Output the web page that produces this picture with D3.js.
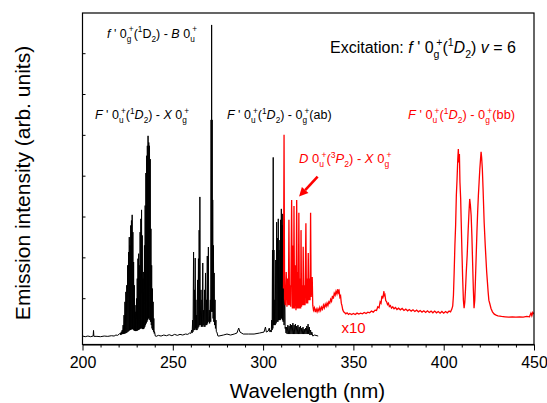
<!DOCTYPE html>
<html>
<head>
<meta charset="utf-8">
<script src="https://cdn.jsdelivr.net/npm/d3@7"></script>
<style>
  html, body { margin: 0; padding: 0; background: #fff; }
  svg { display: block; font-family: "Liberation Sans", Arial, sans-serif; }
</style>
</head>
<body>
<div id="chart"></div>
<script>
// wavelength (nm), intensity (arb. units, 0-100 of full frame height)
const blackSpectrum = [
  [200.0, 2.7], [201.5, 2.5], [203.0, 2.7], [204.5, 2.5], [205.9, 2.7], [206.1, 4.4], [206.3, 2.6],
  [208.0, 2.6], [210.0, 2.5], [212.0, 2.7], [214.0, 2.6], [216.0, 2.8], [217.5, 2.7], [218.5, 3.0],
  [219.5, 2.9], [220.3, 3.3],
  [221.0, 3.6], [221.2, 3.0], [221.5, 4.0], [221.7, 3.2], [222.0, 4.5], [222.2, 3.3], [222.5, 6.0], [222.7, 3.3],
  [223.0, 9.0], [223.2, 3.4], [223.5, 13.0], [223.7, 3.5], [224.0, 16.0], [224.2, 3.6], [224.5, 18.0], [224.7, 3.8],
  [225.0, 24.0], [225.2, 4.0], [225.5, 28.0], [225.7, 4.2], [225.9, 32.5], [226.1, 4.5], [226.3, 30.0], [226.5, 4.5],
  [226.7, 36.0], [226.9, 4.6], [227.1, 37.5], [227.3, 4.8], [227.5, 39.2], [227.7, 4.8], [227.9, 34.0], [228.1, 4.6],
  [228.3, 25.0], [228.5, 4.4], [228.7, 18.0], [228.9, 4.3], [229.1, 12.0], [229.3, 4.2], [229.5, 10.0], [229.7, 4.2],
  [229.9, 14.0], [230.1, 4.3], [230.3, 20.0], [230.5, 4.4], [230.7, 26.0], [230.9, 4.5], [231.1, 27.5], [231.3, 4.6],
  [231.5, 24.0], [231.7, 4.8], [231.9, 34.0], [232.1, 5.0], [232.3, 38.0], [232.5, 5.0], [232.7, 40.7], [232.9, 5.0],
  [233.1, 33.0], [233.3, 4.8], [233.5, 20.0], [233.7, 4.8], [233.9, 22.0], [234.1, 5.0], [234.3, 30.0], [234.5, 5.5],
  [234.7, 42.0], [234.9, 6.0], [235.1, 51.8], [235.3, 6.5], [235.5, 57.0], [235.7, 7.0], [235.9, 60.0], [236.1, 7.5],
  [236.3, 63.0], [236.5, 8.0], [236.7, 61.0], [236.9, 8.0], [237.1, 60.0], [237.3, 7.5], [237.5, 56.0], [237.7, 7.0],
  [237.9, 35.0], [238.1, 6.0], [238.3, 24.0], [238.5, 5.0], [238.7, 17.0], [238.9, 4.5], [239.1, 13.0], [239.3, 4.0],
  [239.5, 8.0], [239.7, 3.5], [239.9, 4.0], [240.3, 2.7],
  [240.8, 2.6], [242.0, 2.9], [243.5, 2.7], [245.0, 3.0], [246.5, 2.8], [248.0, 3.1], [249.5, 2.8], [251.0, 3.2],
  [252.5, 2.9], [254.0, 3.2], [255.5, 3.0], [257.0, 3.3], [258.3, 3.2], [259.3, 3.6], [260.0, 3.5],
  [260.5, 4.5], [260.7, 3.6], [261.0, 7.5], [261.2, 4.0], [261.5, 28.0], [261.7, 4.5], [262.0, 16.6], [262.2, 4.5],
  [262.4, 26.2], [262.6, 5.0], [262.8, 13.6], [263.0, 4.5], [263.2, 9.0], [263.4, 4.5], [263.7, 19.6], [263.9, 5.0],
  [264.2, 26.0], [264.4, 5.5], [264.6, 34.6], [264.8, 6.0], [265.0, 44.6], [265.2, 6.0], [265.6, 16.6], [265.8, 5.5],
  [266.1, 13.6], [266.3, 5.5], [266.6, 24.7], [266.8, 6.0], [267.1, 10.5], [267.3, 5.5], [267.6, 16.6], [267.8, 5.5],
  [268.1, 21.7], [268.3, 6.0], [268.6, 13.6], [268.8, 6.0], [269.1, 26.8], [269.3, 6.5], [269.7, 29.5], [269.9, 7.0],
  [270.2, 10.5], [270.4, 6.5], [270.8, 13.6], [271.0, 7.0], [271.2, 67.8], [271.35, 10.0], [271.5, 96.4], [271.65, 20.0],
  [271.8, 67.8], [271.95, 10.0], [272.1, 43.7], [272.3, 8.0], [272.5, 30.0], [272.7, 7.0], [272.9, 21.7], [273.1, 6.0],
  [273.4, 13.6], [273.6, 5.0], [273.9, 7.5], [274.1, 4.0], [274.4, 3.9], [275.0, 2.7],
  [275.5, 2.7], [278.0, 3.0], [280.0, 3.3], [282.0, 3.0], [284.0, 3.3], [285.5, 3.6], [286.5, 5.1], [287.2, 3.9],
  [289.0, 3.3], [292.0, 3.3], [295.0, 3.3], [298.0, 3.6], [300.5, 3.9], [301.3, 5.4], [301.8, 3.9], [302.8, 4.2],
  [303.4, 5.1], [303.8, 3.9],
  [304.3, 4.5], [304.5, 3.9], [304.8, 7.5], [305.0, 4.5], [305.2, 28.6], [305.4, 5.0], [305.6, 56.5], [305.8, 6.0],
  [306.0, 28.6], [306.2, 6.0], [306.5, 13.6], [306.7, 6.0], [307.0, 25.6], [307.2, 6.5], [307.5, 37.0], [307.7, 7.0],
  [308.0, 32.2], [308.2, 7.0], [308.4, 38.0], [308.6, 7.5], [308.8, 28.6], [309.0, 7.5], [309.3, 31.6], [309.5, 7.5],
  [309.7, 37.7], [309.9, 8.0], [310.1, 41.0], [310.3, 8.0], [310.5, 36.1], [310.7, 7.5], [310.9, 39.5], [311.1, 7.0],
  [311.4, 28.6], [311.6, 6.0], [312.0, 17.5], [312.2, 5.0], [312.4, 5.4], [312.7, 3.6],
  [313.0, 5.4], [313.3, 3.3], [313.7, 6.0], [314.0, 3.3], [314.4, 5.7], [314.7, 3.3], [315.1, 6.3], [315.4, 3.3],
  [315.8, 6.0], [316.1, 3.3], [316.5, 6.6], [316.8, 3.3], [317.2, 6.0], [317.5, 3.3], [317.9, 6.3], [318.2, 3.3],
  [318.6, 5.7], [318.9, 3.3], [319.3, 6.0], [319.6, 3.3], [320.0, 5.4], [320.3, 3.3], [320.7, 5.7], [321.0, 3.3],
  [321.4, 5.1], [321.7, 3.3], [322.1, 5.4], [322.4, 3.3], [322.8, 4.8], [323.1, 3.3], [323.5, 5.1], [323.8, 3.3],
  [324.2, 5.7], [324.5, 3.3], [324.9, 6.3], [325.2, 3.3], [325.6, 5.4], [325.9, 3.0], [326.3, 4.5], [326.6, 3.0],
  [327.0, 3.9], [327.5, 2.7], [328.5, 3.0], [330.5, 2.7]
];

// the x10 magnified trace
const redSpectrum = [
  [311.3, 17.0], [311.6, 63.3], [311.9, 14.0], [312.3, 12.0], [312.8, 22.0], [313.2, 11.5], [313.6, 20.0],
  [314.0, 12.0], [314.3, 37.7], [314.6, 12.0], [315.0, 18.0], [315.3, 11.5], [315.8, 43.7], [316.2, 11.0],
  [316.6, 30.0], [316.9, 11.0], [317.1, 41.9], [317.4, 11.0], [317.9, 24.0], [318.2, 10.5], [318.6, 43.7],
  [318.9, 11.0], [319.3, 22.0], [319.5, 11.0], [319.8, 39.8], [320.1, 11.0], [320.5, 20.0], [320.8, 11.0],
  [321.0, 34.6], [321.3, 11.5], [321.7, 18.0], [322.0, 12.0], [322.2, 29.6], [322.5, 12.0], [322.9, 18.0],
  [323.2, 12.0], [323.7, 36.7], [324.0, 12.5], [324.4, 20.0], [324.7, 12.5], [325.0, 27.7], [325.3, 13.5],
  [325.7, 20.0], [326.0, 13.5], [326.3, 39.8], [326.6, 14.5], [326.9, 18.0], [327.2, 20.5],
  [327.5, 12.0], [327.9, 10.5], [328.4, 11.2], [328.9, 9.9], [329.4, 10.8], [329.9, 10.0], [330.4, 10.9],
  [330.9, 10.2], [331.4, 11.3], [331.9, 10.4], [332.4, 11.4], [332.9, 10.8], [333.4, 12.0], [333.9, 11.2],
  [334.4, 12.3], [334.9, 11.6], [335.4, 12.6], [335.9, 11.9], [336.4, 13.0], [336.9, 12.6], [337.4, 13.8],
  [337.9, 13.2], [338.4, 14.8], [338.9, 14.0], [339.4, 15.6], [339.9, 15.0], [340.4, 16.2], [340.9, 15.4],
  [341.4, 16.8], [341.7, 15.8], [342.1, 16.3], [342.5, 14.4], [342.9, 14.8], [343.3, 12.6], [343.7, 11.8],
  [344.1, 10.6], [344.6, 10.0], [345.1, 9.8], [345.8, 9.4], [346.5, 9.7], [347.3, 9.2], [348.0, 9.5],
  [349.0, 9.2], [350.0, 9.5], [351.0, 9.2], [352.0, 9.6], [353.0, 9.3], [354.0, 9.6], [355.0, 9.4],
  [356.0, 9.8], [357.0, 9.5], [358.0, 9.9], [359.0, 9.7], [360.0, 10.2], [361.0, 9.9], [362.0, 10.5],
  [362.8, 10.4], [363.5, 11.5], [364.2, 11.2], [364.8, 13.0], [365.3, 12.6], [365.8, 14.8], [366.3, 14.0],
  [366.9, 16.2], [367.2, 14.6], [367.5, 15.0], [367.9, 13.4], [368.4, 13.0], [368.9, 12.2], [369.4, 12.6],
  [369.9, 11.6], [370.5, 11.9], [371.1, 11.1], [371.8, 11.5], [372.5, 10.9], [373.3, 11.3], [374.1, 10.7],
  [375.0, 11.1], [376.0, 10.6], [377.0, 11.0], [378.0, 10.4], [379.0, 10.8], [380.0, 10.3], [381.0, 10.7],
  [382.0, 10.2], [383.0, 10.6], [384.0, 10.1], [385.0, 10.5], [386.0, 10.0], [387.0, 10.4], [388.0, 9.9],
  [389.0, 10.3], [390.0, 9.8], [391.0, 10.3], [392.0, 9.8], [393.0, 10.2], [394.0, 9.7], [395.0, 10.2],
  [396.0, 9.7], [397.0, 10.1], [398.0, 9.6], [399.0, 10.1], [400.0, 9.6], [401.0, 10.1], [402.0, 9.7],
  [403.0, 10.2], [403.8, 10.0], [404.5, 10.8], [405.0, 11.8], [405.4, 15.0], [405.8, 22.0], [406.2, 30.0],
  [406.6, 36.0], [407.0, 45.0], [407.4, 50.0], [407.8, 56.0], [408.1, 59.0], [408.4, 55.0], [408.7, 57.5],
  [409.0, 49.0], [409.4, 44.0], [409.7, 37.0], [410.1, 28.0], [410.5, 20.0], [410.9, 13.5], [411.3, 11.1],
  [411.7, 13.0], [412.1, 17.0], [412.5, 22.0], [413.0, 27.0], [413.5, 34.0], [414.0, 40.0], [414.4, 44.0],
  [414.8, 42.0], [415.2, 39.0], [415.6, 33.0], [416.0, 25.0], [416.4, 17.0], [416.8, 11.1], [417.2, 13.5],
  [417.6, 20.0], [418.0, 27.0], [418.4, 34.0], [418.8, 40.0], [419.2, 45.0], [419.6, 49.0], [420.0, 53.0],
  [420.4, 56.0], [420.7, 58.2], [421.0, 56.5], [421.4, 53.0], [421.8, 47.0], [422.4, 37.0], [423.0, 30.0],
  [423.4, 26.0], [423.8, 22.0], [424.2, 19.0], [424.6, 16.0], [425.0, 13.5], [425.5, 12.5], [426.2, 11.0],
  [427.0, 10.0], [428.0, 9.3], [429.0, 9.0], [430.0, 8.8], [432.0, 8.6], [434.0, 8.5], [436.0, 8.4],
  [438.0, 8.5], [440.0, 8.4], [442.0, 8.5], [444.0, 8.4], [446.0, 8.6], [447.5, 8.5], [448.3, 9.6],
  [448.8, 8.8], [449.3, 9.8], [450.0, 9.3]
];

const xMajorTicks = [200, 250, 300, 350, 400, 450];
const xMinorTicks = [210, 220, 230, 240, 260, 270, 280, 290, 310, 320, 330, 340,
                     360, 370, 380, 390, 410, 420, 430, 440];
const yTicks = [14.1, 26.4, 38.7, 51.0, 63.3, 75.6, 87.9];

// label pieces: [text, kind]  n=normal, i=italic, b=subscript, p=superscript, bp=[sub, sup] stacked
const labelFB = [["f", "i"], [" ' 0", "n"], [["g", "+"], "bp"], ["(", "n"], ["1", "p"], ["D", "n"], ["2", "b"],
                 [") - ", "n"], ["B", "i"], [" 0", "n"], [["u", "+"], "bp"]];
const labelFX = [["F", "i"], [" ' 0", "n"], [["u", "+"], "bp"], ["(", "n"], ["1", "p"], ["D", "i"], ["2", "b"],
                 [") - ", "n"], ["X", "i"], [" 0", "n"], [["g", "+"], "bp"]];
const labelAB = [["F", "i"], [" ' 0", "n"], [["u", "+"], "bp"], ["(", "n"], ["1", "p"], ["D", "i"], ["2", "b"],
                 [") - 0", "n"], [["g", "+"], "bp"], ["(ab)", "n"]];
const labelBB = [["F", "i"], [" ' 0", "n"], [["u", "+"], "bp"], ["(", "n"], ["1", "p"], ["D", "i"], ["2", "b"],
                 [") - 0", "n"], [["g", "+"], "bp"], ["(bb)", "n"]];
const labelDX = [["D", "i"], [" 0", "n"], [["u", "+"], "bp"], ["(", "n"], ["3", "p"], ["P", "i"], ["2", "b"],
                 [") - ", "n"], ["X", "i"], [" 0", "n"], [["g", "+"], "bp"]];
const labelExc = [["Excitation: ", "n"], ["f", "i"], [" ' 0", "n"], [["g", "+"], "bp"], ["(", "n"], ["1", "p"],
                  ["D", "i"], ["2", "b"], [")  ", "n"], ["v", "i"], [" = 6", "n"]];

const width = 547, height = 403;
const svg = d3.select("#chart").append("svg")
    .attr("width", width)
    .attr("height", height);

const x = d3.scaleLinear().domain([200, 450]).range([82.5, 534]);
const y = d3.scaleLinear().domain([0, 100]).range([345, 13]);

svg.append("clipPath").attr("id", "plot-clip")
    .append("rect").attr("x", 82.5).attr("y", 13).attr("width", 451.5).attr("height", 331.5);

const line = d3.line().x(d => x(d[0])).y(d => y(d[1]));

const plot = svg.append("g").attr("clip-path", "url(#plot-clip)");

plot.append("path")
    .datum(blackSpectrum)
    .attr("fill", "none")
    .attr("stroke", "#000")
    .attr("stroke-width", 1)
    .attr("d", line);

plot.append("path")
    .datum(redSpectrum)
    .attr("fill", "none")
    .attr("stroke", "#ff0000")
    .attr("stroke-width", 1.3)
    .attr("d", line);

// axes
const xAxis = svg.append("g")
    .attr("transform", "translate(0,344.5)")
    .call(d3.axisBottom(x).tickValues(xMajorTicks).tickSize(6).tickSizeOuter(0).tickPadding(6)
        .tickFormat(d3.format("d")));
xAxis.select(".domain").attr("stroke-width", 1.2);
xAxis.selectAll("text")
    .attr("font-family", "Liberation Sans, Arial, sans-serif")
    .attr("font-size", 16)
    .attr("fill", "#000");

svg.append("g")
    .attr("transform", "translate(0,344.5)")
    .call(d3.axisBottom(x).tickValues(xMinorTicks).tickSize(3).tickFormat(""))
    .select(".domain").remove();

svg.append("g")
    .attr("transform", "translate(82.5,0)")
    .call(d3.axisLeft(y).tickValues(yTicks).tickSize(-3).tickFormat(""))
    .select(".domain").remove();

svg.append("rect")
    .attr("x", 82.5).attr("y", 13)
    .attr("width", 451.5).attr("height", 331.5)
    .attr("fill", "none")
    .attr("stroke", "#000")
    .attr("stroke-width", 1.2);

// axis titles
svg.append("text")
    .attr("x", 307.5).attr("y", 398)
    .attr("text-anchor", "middle")
    .attr("font-size", 20.5)
    .text("Wavelength  (nm)");

svg.append("text")
    .attr("transform", "translate(30,183) rotate(-90)")
    .attr("text-anchor", "middle")
    .attr("font-size", 21)
    .text("Emission intensity  (arb. units)");

// rich labels with sub/superscripts
function richText(px, py, parts, size, color) {
    const t = svg.append("text")
        .attr("x", px).attr("y", py)
        .attr("font-size", size)
        .attr("fill", color);
    const small = size * 0.66;
    const subOff = size * 0.32, supOff = -size * 0.42;
    let off = 0;
    parts.forEach(([txt, kind]) => {
        if (kind === "bp") {
            const s1 = t.append("tspan").text(txt[0]).attr("font-size", small).attr("dy", subOff - off);
            off = subOff;
            const w = s1.node().getComputedTextLength();
            t.append("tspan").text(txt[1]).attr("font-size", small)
                .attr("dx", -w * 0.55).attr("dy", supOff - off);
            off = supOff;
        } else {
            const target = kind === "b" ? subOff : kind === "p" ? supOff : 0;
            const s = t.append("tspan").text(txt).attr("dy", target - off);
            off = target;
            if (kind === "b" || kind === "p") s.attr("font-size", small);
            if (kind === "i") s.attr("font-style", "italic");
        }
    });
}

richText(107, 37.5, labelFB, 12.5, "#000");
richText(95, 119, labelFX, 12.5, "#000");
richText(227, 119, labelAB, 12.5, "#000");
richText(330, 53, labelExc, 16, "#000");
richText(408, 119, labelBB, 12.8, "#ff0000");
richText(299, 163, labelDX, 13, "#ff0000");

svg.append("text")
    .attr("x", 341.5).attr("y", 333)
    .attr("font-size", 15)
    .attr("fill", "#ff0000")
    .text("x10");

// arrow pointing at the D-X band
const arrowTail = [330.2, 50.7], arrowHead = [319.9, 44.7];
const ax0 = x(arrowTail[0]), ay0 = y(arrowTail[1]);
const ax1 = x(arrowHead[0]), ay1 = y(arrowHead[1]);
const ang = Math.atan2(ay1 - ay0, ax1 - ax0);
const headLen = 9, headW = 4.5;
const bx = ax1 - headLen * Math.cos(ang), by = ay1 - headLen * Math.sin(ang);
svg.append("line")
    .attr("x1", ax0).attr("y1", ay0).attr("x2", bx).attr("y2", by)
    .attr("stroke", "#ff0000").attr("stroke-width", 2.6);
svg.append("path")
    .attr("d", `M${ax1},${ay1}L${bx + headW * Math.sin(ang)},${by - headW * Math.cos(ang)}` +
               `L${bx - headW * Math.sin(ang)},${by + headW * Math.cos(ang)}Z`)
    .attr("fill", "#ff0000");
</script>
</body>
</html>
